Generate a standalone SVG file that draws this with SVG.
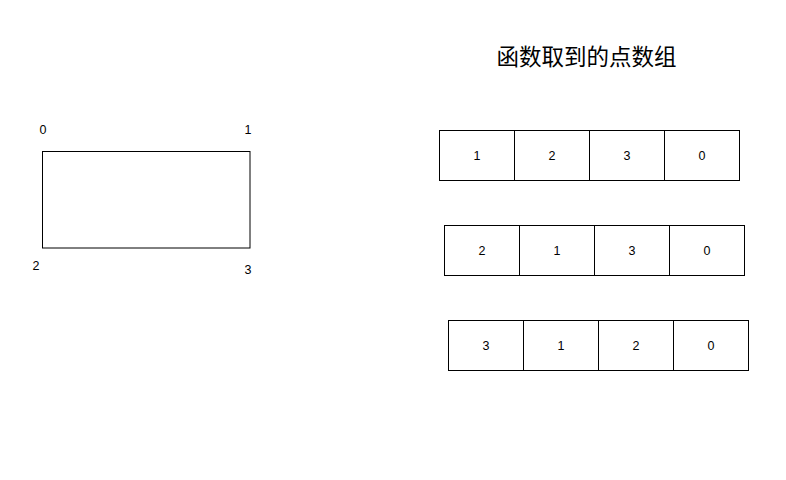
<svg xmlns="http://www.w3.org/2000/svg" width="786" height="480" viewBox="0 0 786 480">
<style>
.c{fill:#fff;stroke:#000;stroke-width:1}
.t{font-family:"Liberation Sans",Arial,sans-serif;font-size:12.5px;fill:#000;text-anchor:middle;dominant-baseline:central}
.h{font-family:"Noto Sans CJK SC","Liberation Sans",sans-serif;font-size:22.5px;fill:#000;text-anchor:middle;dominant-baseline:central}
</style>
<rect width="786" height="480" fill="#fff"/>
<g id="rect">
<rect class="c" x="42.5" y="151.5" width="207.5" height="96.5"/>
</g>
<g id="corner-labels">
<text class="t" x="43" y="130">0</text>
<text class="t" x="248" y="130">1</text>
<text class="t" x="36" y="266">2</text>
<text class="t" x="248" y="270">3</text>
</g>
<g id="title"><text class="h" x="586.5" y="55">函数取到的点数组</text></g>
<g id="row1">
<rect class="c" x="439.5" y="130.5" width="75" height="50"/><text class="t" x="477" y="155.5">1</text>
<rect class="c" x="514.5" y="130.5" width="75" height="50"/><text class="t" x="552" y="155.5">2</text>
<rect class="c" x="589.5" y="130.5" width="75" height="50"/><text class="t" x="627" y="155.5">3</text>
<rect class="c" x="664.5" y="130.5" width="75" height="50"/><text class="t" x="702" y="155.5">0</text>
</g>
<g id="row2">
<rect class="c" x="444.5" y="225.5" width="75" height="50"/><text class="t" x="482" y="250.5">2</text>
<rect class="c" x="519.5" y="225.5" width="75" height="50"/><text class="t" x="557" y="250.5">1</text>
<rect class="c" x="594.5" y="225.5" width="75" height="50"/><text class="t" x="632" y="250.5">3</text>
<rect class="c" x="669.5" y="225.5" width="75" height="50"/><text class="t" x="707" y="250.5">0</text>
</g>
<g id="row3">
<rect class="c" x="448.5" y="320.5" width="75" height="50"/><text class="t" x="486" y="345.5">3</text>
<rect class="c" x="523.5" y="320.5" width="75" height="50"/><text class="t" x="561" y="345.5">1</text>
<rect class="c" x="598.5" y="320.5" width="75" height="50"/><text class="t" x="636" y="345.5">2</text>
<rect class="c" x="673.5" y="320.5" width="75" height="50"/><text class="t" x="711" y="345.5">0</text>
</g>
<g id="connectors"></g>
</svg>
